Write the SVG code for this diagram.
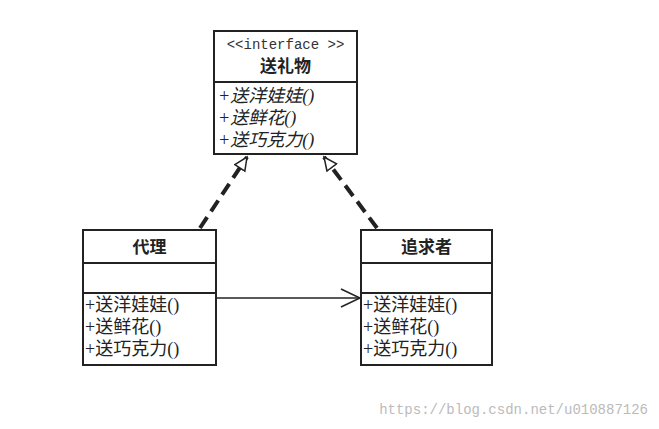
<svg xmlns="http://www.w3.org/2000/svg" width="659" height="429" viewBox="0 0 659 429">
<style>
.box{fill:#fff;stroke:#222;stroke-width:2}
.sep{stroke:#222;stroke-width:2}
.t{font-family:"Liberation Serif","Noto Sans CJK SC",serif;font-size:18px;fill:#222}
.b{font-family:"Noto Sans CJK SC",sans-serif;font-size:17px;font-weight:bold;fill:#222}
.i{font-style:italic}
</style>
<defs>
<marker id="tri" markerWidth="16" markerHeight="16" refX="14" refY="7" orient="auto" markerUnits="userSpaceOnUse">
<path d="M1,1 L14,7 L1,13 Z" fill="#fff" stroke="#222" stroke-width="1.5"/>
</marker>
<marker id="open" markerWidth="22" markerHeight="20" refX="20" refY="10" orient="auto" markerUnits="userSpaceOnUse">
<path d="M1,1 L20,10 L1,19" fill="none" stroke="#222" stroke-width="1.5"/>
</marker>
</defs>
<rect width="659" height="429" fill="#fff"/>
<g id="connectors">
<line x1="200" y1="228" x2="247" y2="157" stroke="#222" stroke-width="4" stroke-dasharray="13,7" marker-end="url(#tri)"/>
<line x1="377" y1="228" x2="324" y2="157" stroke="#222" stroke-width="4" stroke-dasharray="13,7" marker-end="url(#tri)"/>
<line x1="216" y1="298" x2="360" y2="298" stroke="#222" stroke-width="1.5" marker-end="url(#open)"/>
</g>
<g id="gift">
<rect class="box" x="214" y="31" width="143" height="123"/>
<line class="sep" x1="214" y1="82" x2="357" y2="82"/>
<text x="285.5" y="49" text-anchor="middle" font-family="Liberation Mono,monospace" font-size="14" fill="#333">&lt;&lt;interface &gt;&gt;</text>
<text class="b" x="285.5" y="72" text-anchor="middle">送礼物</text>
<text class="t i" x="218" y="102">+送洋娃娃()</text>
<text class="t i" x="218" y="124">+送鲜花()</text>
<text class="t i" x="218" y="146">+送巧克力()</text>
</g>
<g id="proxy">
<rect class="box" x="83" y="230" width="133" height="135"/>
<line class="sep" x1="83" y1="263" x2="216" y2="263"/>
<line class="sep" x1="83" y1="293" x2="216" y2="293"/>
<text class="b" x="149.5" y="253" text-anchor="middle">代理</text>
<text class="t" x="85" y="311">+送洋娃娃()</text>
<text class="t" x="85" y="333">+送鲜花()</text>
<text class="t" x="85" y="355">+送巧克力()</text>
</g>
<g id="pursuer">
<rect class="box" x="361" y="230" width="131" height="135"/>
<line class="sep" x1="361" y1="263" x2="492" y2="263"/>
<line class="sep" x1="361" y1="293" x2="492" y2="293"/>
<text class="b" x="426.5" y="253" text-anchor="middle">追求者</text>
<text class="t" x="363" y="311">+送洋娃娃()</text>
<text class="t" x="363" y="333">+送鲜花()</text>
<text class="t" x="363" y="355">+送巧克力()</text>
</g>
<text x="648" y="414" text-anchor="end" font-family="Liberation Mono,monospace" font-size="14" fill="#bbb">https://blog.csdn.net/u010887126</text>
</svg>
